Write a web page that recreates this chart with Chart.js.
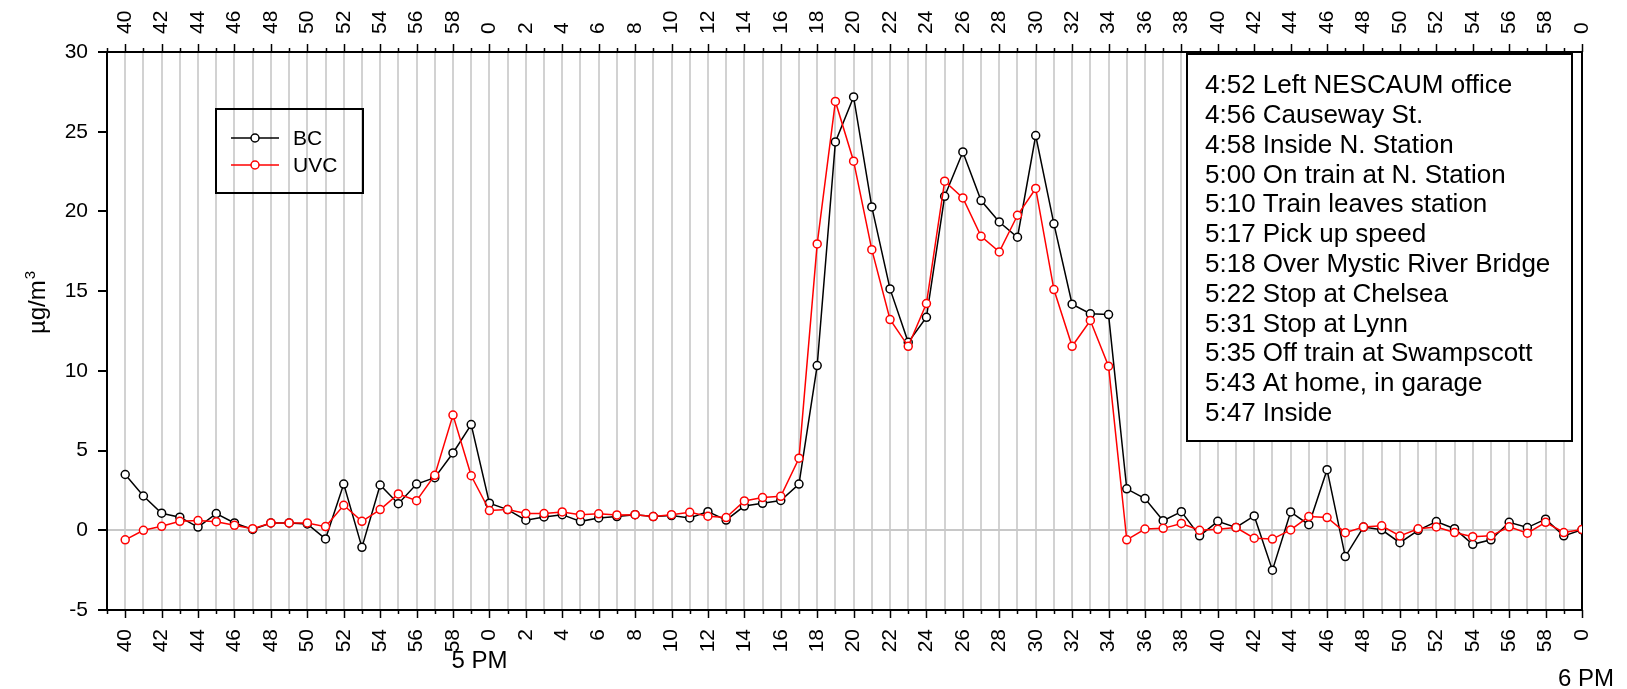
<!DOCTYPE html>
<html>
<head>
<meta charset="utf-8">
<script src="https://cdn.jsdelivr.net/npm/chart.js@4.4.1/dist/chart.umd.min.js"></script>
<style>
  html, body { margin: 0; padding: 0; background: #ffffff; }
  #wrap { width: 1627px; height: 689px; position: relative; }
</style>
</head>
<body>
<div id="wrap"><canvas id="c" width="1627" height="689"></canvas></div>
<script>
// Minutes after 4:40 PM (one reading per minute, 4:40 → 6:00)
const minuteOffsets = [
  0, 1, 2, 3, 4, 5, 6, 7, 8, 9, 10, 11, 12, 13, 14, 15, 16, 17, 18, 19,
  20, 21, 22, 23, 24, 25, 26, 27, 28, 29, 30, 31, 32, 33, 34, 35, 36, 37, 38, 39,
  40, 41, 42, 43, 44, 45, 46, 47, 48, 49, 50, 51, 52, 53, 54, 55, 56, 57, 58, 59,
  60, 61, 62, 63, 64, 65, 66, 67, 68, 69, 70, 71, 72, 73, 74, 75, 76, 77, 78, 79, 80
];

// Black carbon (µg/m³)
const bcValues = [
  3.5, 2.15, 1.07, 0.82, 0.2, 1.05, 0.46, 0.05, 0.46, 0.46,
  0.4, -0.54, 2.9, -1.07, 2.84, 1.67, 2.9, 3.3, 4.85, 6.63,
  1.7, 1.3, 0.63, 0.84, 0.98, 0.56, 0.77, 0.86, 0.98, 0.86,
  0.92, 0.77, 1.17, 0.64, 1.52, 1.69, 1.87, 2.9, 10.33, 24.36,
  27.18, 20.28, 15.14, 11.79, 13.36, 20.95, 23.73, 20.68, 19.34, 18.38,
  24.76, 19.22, 14.18, 13.58, 13.53, 2.6, 1.99, 0.6, 1.17, -0.35,
  0.56, 0.18, 0.9, -2.5, 1.15, 0.35, 3.8, -1.65, 0.2, 0.03,
  -0.78, 0.0, 0.55, 0.1, -0.88, -0.6, 0.5, 0.17, 0.7, -0.35, 0.03
];

// UV-absorbing carbon (µg/m³)
const uvcValues = [
  -0.6, 0.0, 0.25, 0.56, 0.61, 0.54, 0.31, 0.1, 0.46, 0.46,
  0.46, 0.23, 1.57, 0.56, 1.3, 2.28, 1.86, 3.45, 7.23, 3.42,
  1.24, 1.3, 1.05, 1.05, 1.15, 0.98, 1.03, 0.96, 0.98, 0.86,
  0.98, 1.13, 0.88, 0.8, 1.84, 2.05, 2.13, 4.52, 17.96, 26.9,
  23.15, 17.6, 13.22, 11.54, 14.22, 21.9, 20.85, 18.44, 17.46, 19.76,
  21.44, 15.1, 11.54, 13.16, 10.29, -0.6, 0.08, 0.12, 0.43, 0.0,
  0.06, 0.17, -0.5, -0.55, 0.02, 0.86, 0.8, -0.15, 0.2, 0.28,
  -0.36, 0.09, 0.21, -0.14, -0.4, -0.35, 0.22, -0.18, 0.5, -0.14, 0.05
];

// Minute labels shown at every second minute
const tickLabels = [
  '40', '42', '44', '46', '48', '50', '52', '54', '56', '58',
  '0', '2', '4', '6', '8', '10', '12', '14', '16', '18',
  '20', '22', '24', '26', '28', '30', '32', '34', '36', '38',
  '40', '42', '44', '46', '48', '50', '52', '54', '56', '58', '0'
];

const hourLabels = [
  { text: '5 PM', offset: 20 },
  { text: '6 PM', offset: 80 }
];

const events = [
  '4:52 Left NESCAUM office',
  '4:56 Causeway St.',
  '4:58 Inside N. Station',
  '5:00 On train at N. Station',
  '5:10 Train leaves station',
  '5:17 Pick up speed',
  '5:18 Over Mystic River Bridge',
  '5:22 Stop at Chelsea',
  '5:31 Stop at Lynn',
  '5:35 Off train at Swampscott',
  '5:43 At home, in garage',
  '5:47 Inside'
];

const yTicks = [-5, 0, 5, 10, 15, 20, 25, 30];

const FONT = "'Liberation Sans', Arial, Helvetica, sans-serif";
const TICK_SIZE = 21;

function minuteLabel(v) {
  if (v >= 0 && v % 2 === 0) return tickLabels[v / 2];
  return '';
}

function allMinuteTicks(scale) {
  const t = [];
  for (let v = Math.ceil(scale.min); v <= scale.max; v++) t.push({ value: v });
  scale.ticks = t;
}

// Tick marks (long every 2 minutes, short in between), titles, legend and event list
const decorations = {
  id: 'decorations',
  afterDraw(chart) {
    const ctx = chart.ctx;
    const area = chart.chartArea;
    const xs = chart.scales.x;
    ctx.save();
    ctx.strokeStyle = '#000';
    ctx.lineWidth = 1.5;
    for (let v = Math.ceil(xs.min); v <= xs.max; v++) {
      const px = Math.round(xs.getPixelForValue(v)) + 0.5;
      const len = (v >= 0 && v % 2 === 0) ? 8 : 4;
      ctx.beginPath();
      ctx.moveTo(px, area.bottom);
      ctx.lineTo(px, area.bottom + len);
      ctx.moveTo(px, area.top);
      ctx.lineTo(px, area.top - len);
      ctx.stroke();
    }

    // hour markers under the axis
    ctx.fillStyle = '#000';
    ctx.font = '24px ' + FONT;
    ctx.textAlign = 'center';
    ctx.textBaseline = 'middle';
    ctx.fillText(hourLabels[0].text, xs.getPixelForValue(hourLabels[0].offset) - 10, 661);
    ctx.fillText(hourLabels[1].text, xs.getPixelForValue(hourLabels[1].offset) + 4, 679);

    // y-axis title: µg/m³
    ctx.save();
    ctx.translate(36, 303);
    ctx.rotate(-Math.PI / 2);
    ctx.textAlign = 'left';
    ctx.textBaseline = 'alphabetic';
    ctx.font = '24px ' + FONT;
    const base = 'µg/m';
    const w1 = ctx.measureText(base).width;
    ctx.font = '15px ' + FONT;
    const w2 = ctx.measureText('3').width;
    const start = -(w1 + w2) / 2;
    ctx.font = '24px ' + FONT;
    ctx.fillText(base, start, 9);
    ctx.font = '15px ' + FONT;
    ctx.fillText('3', start + w1 + 1, -1);
    ctx.restore();

    // legend
    ctx.lineWidth = 2;
    ctx.strokeStyle = '#000';
    ctx.strokeRect(216, 109, 147, 84);
    chart.data.datasets.forEach((ds, i) => {
      const y = 138 + i * 27;
      ctx.strokeStyle = ds.borderColor;
      ctx.lineWidth = 1.5;
      ctx.beginPath();
      ctx.moveTo(231, y);
      ctx.lineTo(279, y);
      ctx.stroke();
      ctx.beginPath();
      ctx.arc(255, y, 4, 0, Math.PI * 2);
      ctx.fillStyle = '#fff';
      ctx.fill();
      ctx.stroke();
      ctx.fillStyle = '#000';
      ctx.font = '21px ' + FONT;
      ctx.textAlign = 'left';
      ctx.textBaseline = 'middle';
      ctx.fillText(ds.label, 293, y + 1);
    });

    // event list
    ctx.strokeStyle = '#000';
    ctx.lineWidth = 2;
    ctx.fillStyle = '#fff';
    ctx.fillRect(1187, 54, 385, 387);
    ctx.strokeRect(1187, 54, 385, 387);
    ctx.fillStyle = '#000';
    ctx.font = '26px ' + FONT;
    ctx.textAlign = 'left';
    ctx.textBaseline = 'middle';
    events.forEach((t, k) => ctx.fillText(t, 1205, 86 + k * 29.8));
    ctx.restore();
  }
};

const tickFont = { family: FONT, size: TICK_SIZE };

new Chart(document.getElementById('c'), {
  type: 'line',
  data: {
    datasets: [
      {
        label: 'BC',
        data: minuteOffsets.map((m, i) => ({ x: m, y: bcValues[i] })),
        borderColor: '#000000',
        borderWidth: 1.5,
        pointRadius: 4,
        pointBorderWidth: 1.5,
        pointBackgroundColor: '#ffffff',
        pointBorderColor: '#000000',
        tension: 0,
        order: 1
      },
      {
        label: 'UVC',
        data: minuteOffsets.map((m, i) => ({ x: m, y: uvcValues[i] })),
        borderColor: '#ff0000',
        borderWidth: 1.5,
        pointRadius: 4,
        pointBorderWidth: 1.5,
        pointBackgroundColor: '#ffffff',
        pointBorderColor: '#ff0000',
        tension: 0,
        order: 0
      }
    ]
  },
  options: {
    responsive: false,
    animation: false,
    events: [],
    layout: { padding: 0 },
    plugins: { legend: { display: false }, tooltip: { enabled: false } },
    scales: {
      x: {
        type: 'linear',
        position: 'bottom',
        min: -1,
        max: 80,
        afterBuildTicks: allMinuteTicks,
        afterFit(s) { s.height = 79; },
        ticks: {
          autoSkip: false, minRotation: 90, maxRotation: 90, padding: 19,
          font: tickFont, color: '#000', callback: v => minuteLabel(v)
        },
        grid: { color: '#d2d2d2', lineWidth: 2, drawTicks: false },
        border: { display: true, color: '#000', width: 2 }
      },
      x2: {
        type: 'linear',
        position: 'top',
        min: -1,
        max: 80,
        afterBuildTicks: allMinuteTicks,
        afterFit(s) { s.height = 52; },
        ticks: {
          autoSkip: false, minRotation: 90, maxRotation: 90, padding: 18,
          labelOffset: TICK_SIZE * 1.2,
          font: tickFont, color: '#000', callback: v => minuteLabel(v)
        },
        grid: { display: false, drawTicks: false },
        border: { display: true, color: '#000', width: 2 }
      },
      y: {
        position: 'left',
        min: -5,
        max: 30,
        afterBuildTicks(s) { s.ticks = yTicks.map(v => ({ value: v })); },
        afterFit(s) { s.width = 107; },
        ticks: { padding: 10, font: tickFont, color: '#000' },
        grid: {
          color: c => (c.tick && c.tick.value === 0) ? '#c8c8c8' : 'rgba(0,0,0,0)',
          tickColor: '#000',
          lineWidth: 2,
          tickLength: 9
        },
        border: { display: true, color: '#000', width: 2 }
      },
      y2: {
        position: 'right',
        min: -5,
        max: 30,
        afterFit(s) { s.width = 45; },
        ticks: { display: false },
        grid: { display: false, drawTicks: false },
        border: { display: true, color: '#000', width: 2 }
      }
    }
  },
  plugins: [decorations]
});
</script>
</body>
</html>
